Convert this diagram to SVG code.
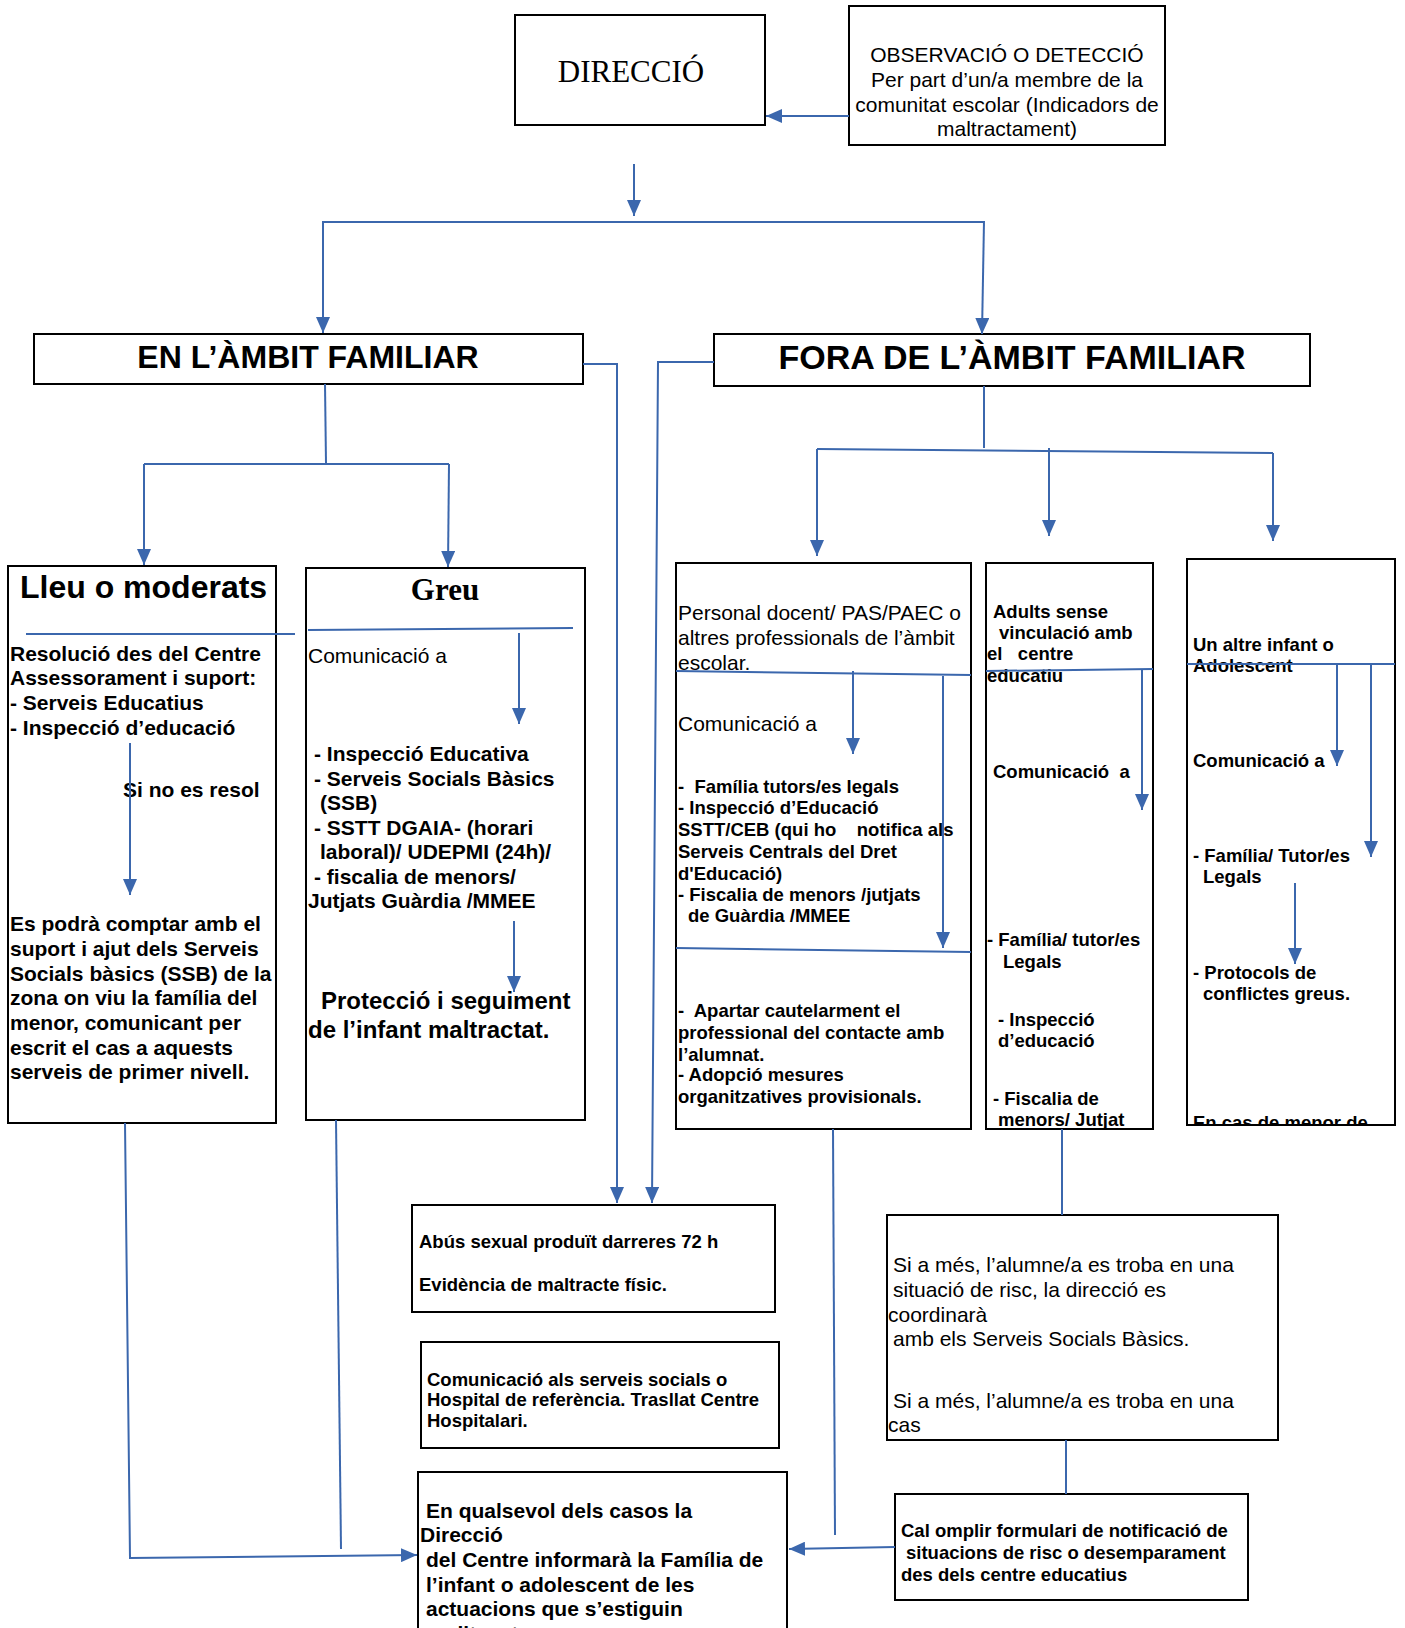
<svg xmlns="http://www.w3.org/2000/svg" width="1405" height="1628" viewBox="0 0 1405 1628">
<style>
.box{fill:#fff;stroke:#000;stroke-width:2}
.t{font-family:"Liberation Sans",Arial,sans-serif;fill:#000}
.r21{font-size:21px}
.b21{font-size:21px;font-weight:bold}
.b18{font-size:18.5px;font-weight:bold}
.serif{font-family:"Liberation Serif","Times New Roman",serif;fill:#000}
.c{fill:none;stroke:#3b67ad;stroke-width:2}
.a{marker-end:url(#ah)}
</style>
<defs>
<marker id="ah" markerUnits="userSpaceOnUse" markerWidth="16" markerHeight="14" viewBox="0 0 16 14" refX="16" refY="7" orient="auto">
<path d="M0,0 L16,7 L0,14 z" fill="#3b67ad"/>
</marker>
<clipPath id="clipUA"><rect x="1187" y="559" width="208" height="565"/></clipPath>
</defs>

<g id="direccio">
<rect class="box" x="515" y="15" width="250" height="110"/>
<text class="serif" x="631" y="82" font-size="31" text-anchor="middle">DIRECCIÓ</text>
</g>

<g id="observacio">
<rect class="box" x="849" y="6" width="316" height="139"/>
<text class="t r21" text-anchor="middle"><tspan x="1007" y="62">OBSERVACIÓ O DETECCIÓ</tspan><tspan x="1007" y="87">Per part d’un/a membre de la</tspan><tspan x="1007" y="112">comunitat escolar (Indicadors de</tspan><tspan x="1007" y="136">maltractament)</tspan></text>
</g>

<g id="ambit-familiar">
<rect class="box" x="34" y="334" width="549" height="50"/>
<text class="t" x="308" y="368" font-size="32" font-weight="bold" text-anchor="middle">EN L’ÀMBIT FAMILIAR</text>
</g>

<g id="fora-ambit">
<rect class="box" x="714" y="334" width="596" height="52"/>
<text class="t" x="1012" y="369" font-size="34" font-weight="bold" text-anchor="middle">FORA DE L’ÀMBIT FAMILIAR</text>
</g>

<g id="lleu">
<rect class="box" x="8" y="566" width="268" height="557"/>
<text class="t" x="20" y="598" font-size="32" font-weight="bold">Lleu o moderats</text>
<text class="t b21"><tspan x="10" y="661">Resolució des del Centre</tspan><tspan x="10" y="685">Assessorament i suport:</tspan><tspan x="10" y="710">- Serveis Educatius</tspan><tspan x="10" y="735">- Inspecció d’educació</tspan></text>
<text class="t b21" x="123" y="797">Si no es resol</text>
<text class="t b21"><tspan x="10" y="931">Es podrà comptar amb el</tspan><tspan x="10" y="956">suport i ajut dels Serveis</tspan><tspan x="10" y="981">Socials bàsics (SSB) de la</tspan><tspan x="10" y="1005">zona on viu la família del</tspan><tspan x="10" y="1030">menor, comunicant per</tspan><tspan x="10" y="1055">escrit el cas a aquests</tspan><tspan x="10" y="1079">serveis de primer nivell.</tspan></text>
</g>

<g id="greu">
<rect class="box" x="306" y="568" width="279" height="552"/>
<text class="serif" x="445" y="600" font-size="31" font-weight="bold" text-anchor="middle">Greu</text>
<text class="t r21" x="308" y="663">Comunicació a</text>
<text class="t b21"><tspan x="314" y="761">- Inspecció Educativa</tspan><tspan x="314" y="786">- Serveis Socials Bàsics</tspan><tspan x="320" y="810">(SSB)</tspan><tspan x="314" y="835">- SSTT DGAIA- (horari</tspan><tspan x="320" y="859">laboral)/ UDEPMI (24h)/</tspan><tspan x="314" y="884">- fiscalia de menors/</tspan><tspan x="308" y="908">Jutjats Guàrdia /MMEE</tspan></text>
<text class="t" font-size="24" font-weight="bold"><tspan x="321" y="1009">Protecció i seguiment</tspan><tspan x="308" y="1038">de l’infant maltractat.</tspan></text>
</g>

<g id="personal-docent">
<rect class="box" x="676" y="563" width="295" height="566"/>
<text class="t r21"><tspan x="678" y="620">Personal docent/ PAS/PAEC o</tspan><tspan x="678" y="645">altres professionals de l’àmbit</tspan><tspan x="678" y="670">escolar.</tspan></text>
<text class="t r21" x="678" y="731">Comunicació a</text>
<text class="t b18" xml:space="preserve"><tspan x="678" y="793">-  Família tutors/es legals</tspan><tspan x="678" y="814">- Inspecció d’Educació</tspan><tspan x="678" y="836">SSTT/CEB (qui ho    notifica als</tspan><tspan x="678" y="858">Serveis Centrals del Dret</tspan><tspan x="678" y="880">d'Educació)</tspan><tspan x="678" y="901">- Fiscalia de menors /jutjats</tspan><tspan x="688" y="922">de Guàrdia /MMEE</tspan></text>
<text class="t b18" xml:space="preserve"><tspan x="678" y="1017">-  Apartar cautelarment el</tspan><tspan x="678" y="1039">professional del contacte amb</tspan><tspan x="678" y="1061">l’alumnat.</tspan><tspan x="678" y="1081">- Adopció mesures</tspan><tspan x="678" y="1103">organitzatives provisionals.</tspan></text>
</g>

<g id="adults">
<rect class="box" x="986" y="563" width="167" height="566"/>
<text class="t b18" xml:space="preserve"><tspan x="993" y="618">Adults sense</tspan><tspan x="999" y="639">vinculació amb</tspan><tspan x="987" y="660">el   centre</tspan><tspan x="987" y="682">educatiu</tspan><tspan x="993" y="778">Comunicació  a</tspan><tspan x="987" y="946">- Família/ tutor/es</tspan><tspan x="1003" y="968">Legals</tspan><tspan x="998" y="1026">- Inspecció</tspan><tspan x="998" y="1047">d’educació</tspan><tspan x="993" y="1105">- Fiscalia de</tspan><tspan x="998" y="1126">menors/ Jutjat</tspan></text>
</g>

<g id="altre-infant">
<rect class="box" x="1187" y="559" width="208" height="566"/>
<text class="t b18"><tspan x="1193" y="651">Un altre infant o</tspan><tspan x="1193" y="672">Adolescent</tspan><tspan x="1193" y="767">Comunicació a</tspan><tspan x="1193" y="862">- Família/ Tutor/es</tspan><tspan x="1203" y="883">Legals</tspan><tspan x="1193" y="979">- Protocols de</tspan><tspan x="1203" y="1000">conflictes greus.</tspan></text>
<text class="t b18" x="1193" y="1129" clip-path="url(#clipUA)">En cas de menor de</text>
</g>

<g id="abus">
<rect class="box" x="412" y="1205" width="363" height="107"/>
<text class="t b18"><tspan x="419" y="1248">Abús sexual produït darreres 72 h</tspan><tspan x="419" y="1291">Evidència de maltracte físic.</tspan></text>
</g>

<g id="comunicacio-serveis">
<rect class="box" x="421" y="1342" width="358" height="106"/>
<text class="t b18"><tspan x="427" y="1386">Comunicació als serveis socials o</tspan><tspan x="427" y="1406">Hospital de referència. Trasllat Centre</tspan><tspan x="427" y="1427">Hospitalari.</tspan></text>
</g>

<g id="qualsevol">
<rect class="box" x="418" y="1472" width="369" height="170"/>
<text class="t b21"><tspan x="426" y="1518">En qualsevol dels casos la</tspan><tspan x="420" y="1542">Direcció</tspan><tspan x="426" y="1567">del Centre informarà la Família de</tspan><tspan x="426" y="1592">l’infant o adolescent de les</tspan><tspan x="426" y="1616">actuacions que s’estiguin</tspan><tspan x="426" y="1641">realitzant.</tspan></text>
</g>

<g id="si-a-mes">
<rect class="box" x="887" y="1215" width="391" height="225"/>
<text class="t r21"><tspan x="893" y="1272">Si a més, l’alumne/a es troba en una</tspan><tspan x="893" y="1297">situació de risc, la direcció es</tspan><tspan x="888" y="1322">coordinarà</tspan><tspan x="893" y="1346">amb els Serveis Socials Bàsics.</tspan><tspan x="893" y="1408">Si a més, l’alumne/a es troba en una</tspan><tspan x="888" y="1432">cas</tspan></text>
</g>

<g id="cal-omplir">
<rect class="box" x="895" y="1494" width="353" height="106"/>
<text class="t b18"><tspan x="901" y="1537">Cal omplir formulari de notificació de</tspan><tspan x="906" y="1559">situacions de risc o desemparament</tspan><tspan x="901" y="1581">des dels centre educatius</tspan></text>
</g>

<g id="connectors">
<path class="c a" d="M849,116 L766,116"/>
<path class="c a" d="M634,164 L634,216"/>
<path class="c" d="M323,222 L984,222"/>
<path class="c a" d="M323,221 L323,333"/>
<path class="c a" d="M984,221 L982,334"/>
<path class="c a" d="M583,364 L617,364 L617,1203"/>
<path class="c a" d="M714,362 L658,362 L652,1203"/>
<path class="c" d="M325,384 L326,464"/>
<path class="c" d="M144,464 L449,464"/>
<path class="c a" d="M144,464 L144,565"/>
<path class="c a" d="M449,464 L448,567"/>
<path class="c" d="M984,386 L984,448"/>
<path class="c" d="M817,449 L1273,453"/>
<path class="c a" d="M817,449 L817,556"/>
<path class="c a" d="M1049,448 L1049,536"/>
<path class="c a" d="M1273,453 L1273,541"/>
<path class="c" d="M26,634 L295,634"/>
<path class="c a" d="M130,743 L130,895"/>
<path class="c" d="M308,630 L573,628"/>
<path class="c a" d="M519,633 L519,724"/>
<path class="c a" d="M514,921 L514,992"/>
<path class="c" d="M676,671 L971,675"/>
<path class="c a" d="M853,671 L853,754"/>
<path class="c a" d="M943,676 L943,948"/>
<path class="c" d="M676,948 L971,952"/>
<path class="c" d="M986,671 L1153,669"/>
<path class="c a" d="M1142,670 L1142,810"/>
<path class="c" d="M1187,664 L1395,664"/>
<path class="c a" d="M1337,664 L1337,766"/>
<path class="c a" d="M1371,664 L1371,857"/>
<path class="c a" d="M1295,883 L1295,964"/>
<path class="c" d="M1062,1129 L1062,1215"/>
<path class="c" d="M1066,1440 L1066,1494"/>
<path class="c a" d="M895,1547 L789,1549"/>
<path class="c" d="M833,1129 L835,1535"/>
<path class="c a" d="M125,1123 L130,1558 L417,1555"/>
<path class="c" d="M336,1120 L341,1549"/>
</g>
</svg>
